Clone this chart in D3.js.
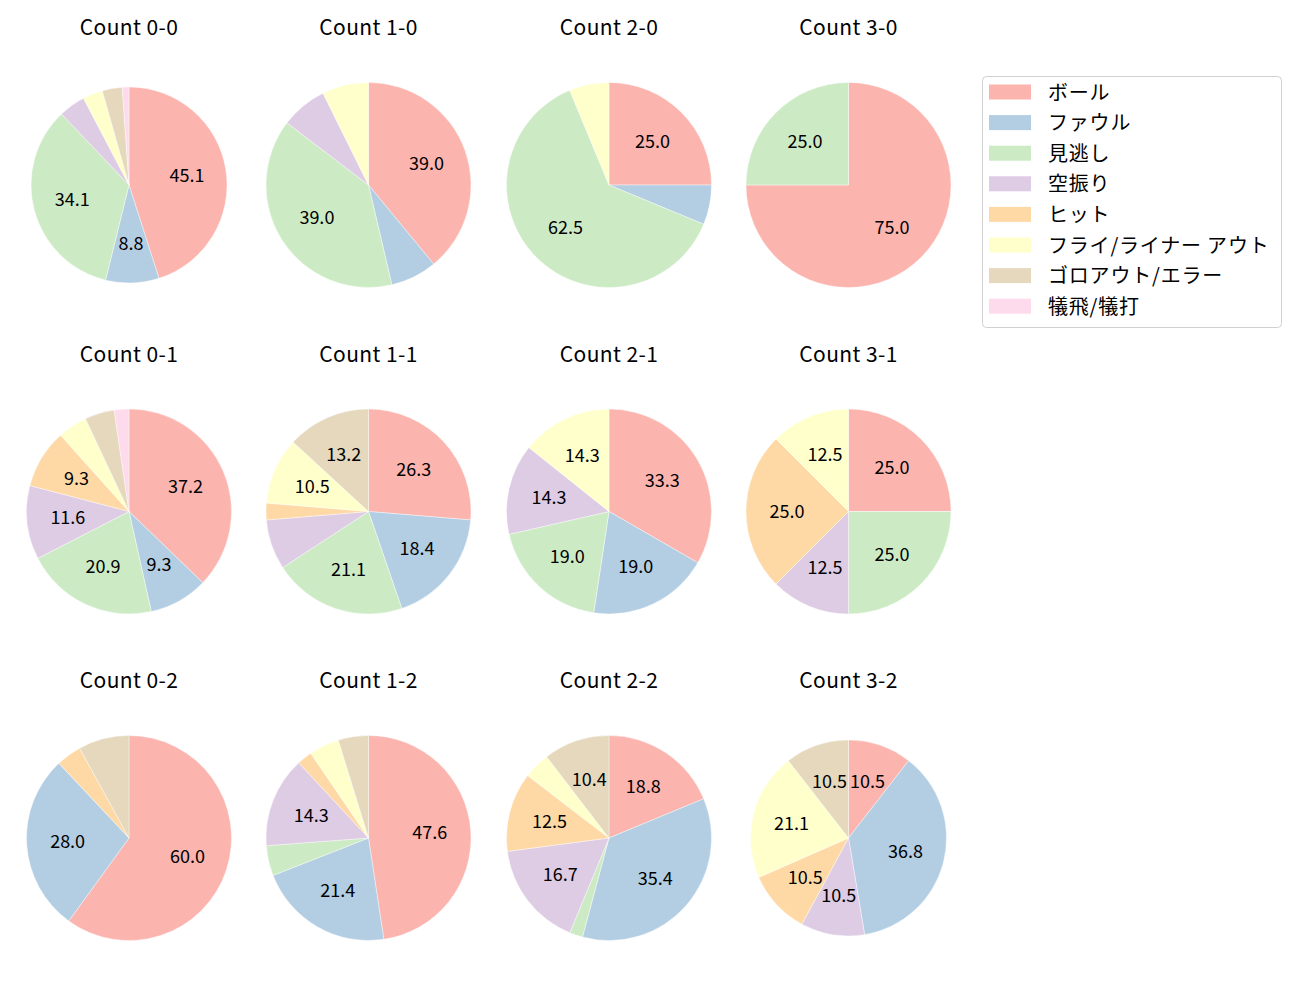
<!DOCTYPE html>
<html>
<head>
<meta charset="utf-8">
<script src="https://cdn.jsdelivr.net/npm/d3@7"></script>
<style>
  body { margin: 0; background: #fff; }
  svg text { font-family: "Noto Sans CJK JP", "Noto Sans", sans-serif; fill: #000; }
</style>
</head>
<body>
<svg id="chart"></svg>
<script>
// result categories (legend order)
const categories = ["ボール", "ファウル", "見逃し", "空振り", "ヒット", "フライ/ライナー アウト", "ゴロアウト/エラー", "犠飛/犠打"];
const colors = ["#fbb4ae", "#b3cde3", "#ccebc5", "#decbe4", "#fed9a6", "#ffffcc", "#e5d8bd", "#fddaec"];

// one entry per ball-strike count, pitch counts per category
const countLabels = ["0-0", "1-0", "2-0", "3-0", "0-1", "1-1", "2-1", "3-1", "0-2", "1-2", "2-2", "3-2"];
const values00 = [41, 8, 31, 4, 0, 3, 3, 1];
const values10 = [16, 3, 16, 3, 0, 3, 0, 0];
const values20 = [4, 1, 10, 0, 0, 1, 0, 0];
const values30 = [3, 0, 1, 0, 0, 0, 0, 0];
const values01 = [16, 4, 9, 5, 4, 2, 2, 1];
const values11 = [10, 7, 8, 3, 1, 4, 5, 0];
const values21 = [7, 4, 4, 3, 0, 3, 0, 0];
const values31 = [2, 0, 2, 1, 2, 1, 0, 0];
const values02 = [15, 7, 0, 0, 1, 0, 2, 0];
const values12 = [20, 9, 2, 6, 1, 2, 2, 0];
const values22 = [9, 17, 1, 8, 6, 2, 5, 0];
const values32 = [2, 7, 0, 2, 2, 4, 2, 0];
const allValues = [values00, values10, values20, values30, values01, values11, values21, values31, values02, values12, values22, values32];

const width = 1300, height = 1000;
const svg = d3.select("#chart").attr("width", width).attr("height", height);

const colX = [129, 368.5, 609, 848.5];
const rowY = [185, 511.5, 838];
const baseR = 102.5;
// a couple of panels come out a bit smaller in the original
const smaller = {"0-0": 98, "3-2": 98};

const color = d3.scaleOrdinal().domain(categories).range(colors);
const pie = d3.pie().sort(null).value(d => d.v);
const fmt = d3.format(".1f");

allValues.forEach((vals, i) => {
  const label = countLabels[i];
  const cx = colX[i % 4], cy = rowY[Math.floor(i / 4)];
  const r = smaller[label] || baseR;
  const total = d3.sum(vals);
  const data = vals.map((v, k) => ({cat: categories[k], v: v}));

  const g = svg.append("g").attr("transform", `translate(${cx},${cy})`);
  const arc = d3.arc().innerRadius(0).outerRadius(r);
  const arcs = pie(data).filter(d => d.data.v > 0);

  g.selectAll("path").data(arcs).enter().append("path")
    .attr("d", arc)
    .attr("fill", d => color(d.data.cat))
    .attr("stroke", "#fff")
    .attr("stroke-width", 0.4);

  const labelArc = d3.arc().innerRadius(r * 0.6).outerRadius(r * 0.6);
  g.selectAll("text.pct").data(arcs.filter(d => d.data.v / total * 100 >= 8.5)).enter().append("text")
    .attr("class", "pct")
    .attr("transform", d => `translate(${labelArc.centroid(d)})`)
    .attr("text-anchor", "middle")
    .attr("dominant-baseline", "central")
    .attr("dy", -2)
    .style("font-size", "18px")
    .text(d => fmt(d.data.v / total * 100));

  svg.append("text")
    .attr("x", cx).attr("y", cy - 159)
    .attr("text-anchor", "middle")
    .attr("dominant-baseline", "central")
    .style("font-size", "21px")
    .style("letter-spacing", "0.4px")
    .text("Count " + label);
});

// legend
const legend = svg.append("g").attr("transform", "translate(982,76)");
legend.append("rect")
  .attr("x", 0.5).attr("y", 0.5).attr("width", 299).attr("height", 251)
  .attr("rx", 4)
  .attr("fill", "#fff").attr("stroke", "#d0d0d0");

const item = legend.selectAll("g.item").data(categories).enter().append("g")
  .attr("class", "item")
  .attr("transform", (d, i) => `translate(0,${16 + i * 30.6})`);
item.append("rect")
  .attr("x", 7).attr("y", -7.5).attr("width", 42).attr("height", 15)
  .attr("fill", d => color(d));
item.append("text")
  .attr("x", 66).attr("y", -1)
  .attr("dominant-baseline", "central")
  .style("font-size", "20px")
  .style("letter-spacing", "0.8px")
  .text(d => d);
</script>
</body>
</html>
